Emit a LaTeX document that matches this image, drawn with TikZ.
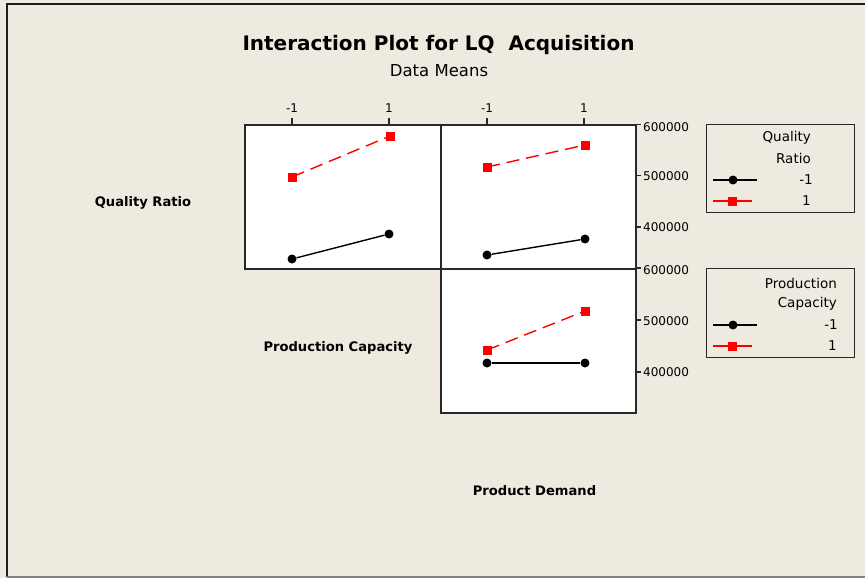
\documentclass[tikz,border=0pt]{standalone}
\usepackage{fontspec}
\setmainfont{DejaVu Sans}
\definecolor{bgbeige}{RGB}{238,234,224}
\definecolor{framedark}{RGB}{30,30,30}
\definecolor{framegray}{RGB}{130,130,130}
\definecolor{axisdark}{RGB}{40,40,40}
\definecolor{seriesred}{RGB}{255,0,0}
\begin{document}
\begin{tikzpicture}[x=1pt,y=-1pt,
  panel/.style={draw=axisdark, line width=1.5pt, fill=white},
  legendbox/.style={draw=axisdark, line width=1.3pt},
  tickline/.style={draw=axisdark, line width=1.2pt},
  ticklabel/.style={inner sep=0pt, font=\fontsize{12}{14}\selectfont},
  axislabel/.style={inner sep=0pt, font=\fontsize{13.1}{15}\selectfont\bfseries},
  legendtext/.style={inner sep=0pt, anchor=east, font=\fontsize{13.5}{16}\selectfont},
  dotmark/.style={circle, fill=black, inner sep=0pt, minimum size=9pt},
  sqmark/.style={rectangle, fill=seriesred, inner sep=0pt, minimum size=9pt},
  lowline/.style={draw=black, line width=1.4pt},
  highline/.style={draw=seriesred, line width=1.4pt, dash pattern=on 13pt off 7pt},
  keyline/.style={line width=1.3pt},
]
\useasboundingbox (0,0) rectangle (865,578);
\fill[bgbeige] (0,0) rectangle (865,578);
% window frame
\draw[framedark, line width=2pt] (7,577) -- (7,4) -- (865,4);
\draw[framegray, line width=1.5pt] (7,577) -- (865,577);

% titles
\node[inner sep=0pt, font=\fontsize{20}{24}\selectfont\bfseries] (title) at (438.5,45) {Interaction Plot for LQ\ \ Acquisition};
\node[inner sep=0pt, font=\fontsize{16.5}{20}\selectfont] (subtitle) at (439,71) {Data Means};

% panels
\node[panel, minimum width=196pt, minimum height=144pt, inner sep=0pt, anchor=north west] (qp) at (244,124) {};
\node[panel, minimum width=195pt, minimum height=144pt, inner sep=0pt, anchor=north west] (qd) at (440,124) {};
\node[panel, minimum width=195pt, minimum height=144pt, inner sep=0pt, anchor=north west] (pd) at (440,268) {};

% top axis ticks
\foreach \x in {292,389,487,584} \draw[tickline] (\x,118) -- (\x,124);
\node[ticklabel] (tx1) at (292,108) {-1};
\node[ticklabel] (tx2) at (389,108) {1};
\node[ticklabel] (tx3) at (487,108) {-1};
\node[ticklabel] (tx4) at (584,108) {1};

% right axis ticks
\foreach \y in {124.5,175.7,227,268,320,372} \draw[tickline] (635,\y) -- (640.5,\y);
\node[ticklabel, anchor=west] (ya1) at (643,127) {600000};
\node[ticklabel, anchor=west] (ya2) at (643,176) {500000};
\node[ticklabel, anchor=west] (ya3) at (643,227) {400000};
\node[ticklabel, anchor=west] (yb1) at (643,270) {600000};
\node[ticklabel, anchor=west] (yb2) at (643,321) {500000};
\node[ticklabel, anchor=west] (yb3) at (643,372) {400000};

% factor names on the diagonal
\node[axislabel] (lq) at (143,203) {Quality Ratio};
\node[axislabel] (lp) at (338,348) {Production Capacity};
\node[axislabel] (ld) at (534.5,491) {Product Demand};

% Quality Ratio vs Production Capacity
\node[sqmark] (a1) at (292,177) {};
\node[sqmark] (a2) at (390,136) {};
\node[dotmark] (a3) at (292,259) {};
\node[dotmark] (a4) at (389,234) {};
\draw[highline] (a1.center) -- (a2.center);
\draw[lowline] (a3) -- (a4);

% Quality Ratio vs Product Demand
\node[sqmark] (b1) at (487,167) {};
\node[sqmark] (b2) at (585,145) {};
\node[dotmark] (b3) at (487,255) {};
\node[dotmark] (b4) at (585,239) {};
\draw[highline] (b1.center) -- (b2.center);
\draw[lowline] (b3) -- (b4);

% Production Capacity vs Product Demand
\node[sqmark] (c1) at (487,350) {};
\node[sqmark] (c2) at (585,311) {};
\node[dotmark] (c3) at (487,363) {};
\node[dotmark] (c4) at (585,363) {};
\draw[highline] (c1.center) -- (c2.center);
\draw[lowline] (c3) -- (c4);

% legend: Quality Ratio
\node[legendbox, minimum width=148pt, minimum height=88pt, inner sep=0pt, anchor=north west] (leg1) at (706,124) {};
\node[legendtext] (leg1h1) at (811,138) {Quality};
\node[legendtext] (leg1h2) at (811,158) {Ratio};
\node[legendtext] (leg1t1) at (813,180) {-1};
\node[legendtext] (leg1t2) at (811,201) {1};
\coordinate (k1a) at (713,180); \coordinate (k1b) at (757,180);
\coordinate (k2a) at (713,201); \coordinate (k2b) at (752,201);
\draw[keyline, black] (k1a) -- (k1b);
\draw[keyline, seriesred] (k2a) -- (k2b);
\node[dotmark] (k1m) at (733,180) {};
\node[sqmark] (k2m) at (732,201) {};

% legend: Production Capacity
\node[legendbox, minimum width=148pt, minimum height=89pt, inner sep=0pt, anchor=north west] (leg2) at (706,268) {};
\node[legendtext] (leg2h1) at (837,283) {Production};
\node[legendtext] (leg2h2) at (837,304) {Capacity};
\node[legendtext] (leg2t1) at (838,325) {-1};
\node[legendtext] (leg2t2) at (837,346) {1};
\coordinate (k3a) at (713,325); \coordinate (k3b) at (757,325);
\coordinate (k4a) at (713,346); \coordinate (k4b) at (752,346);
\draw[keyline, black] (k3a) -- (k3b);
\draw[keyline, seriesred] (k4a) -- (k4b);
\node[dotmark] (k3m) at (733,325) {};
\node[sqmark] (k4m) at (732,346) {};
\end{tikzpicture}
\end{document}
